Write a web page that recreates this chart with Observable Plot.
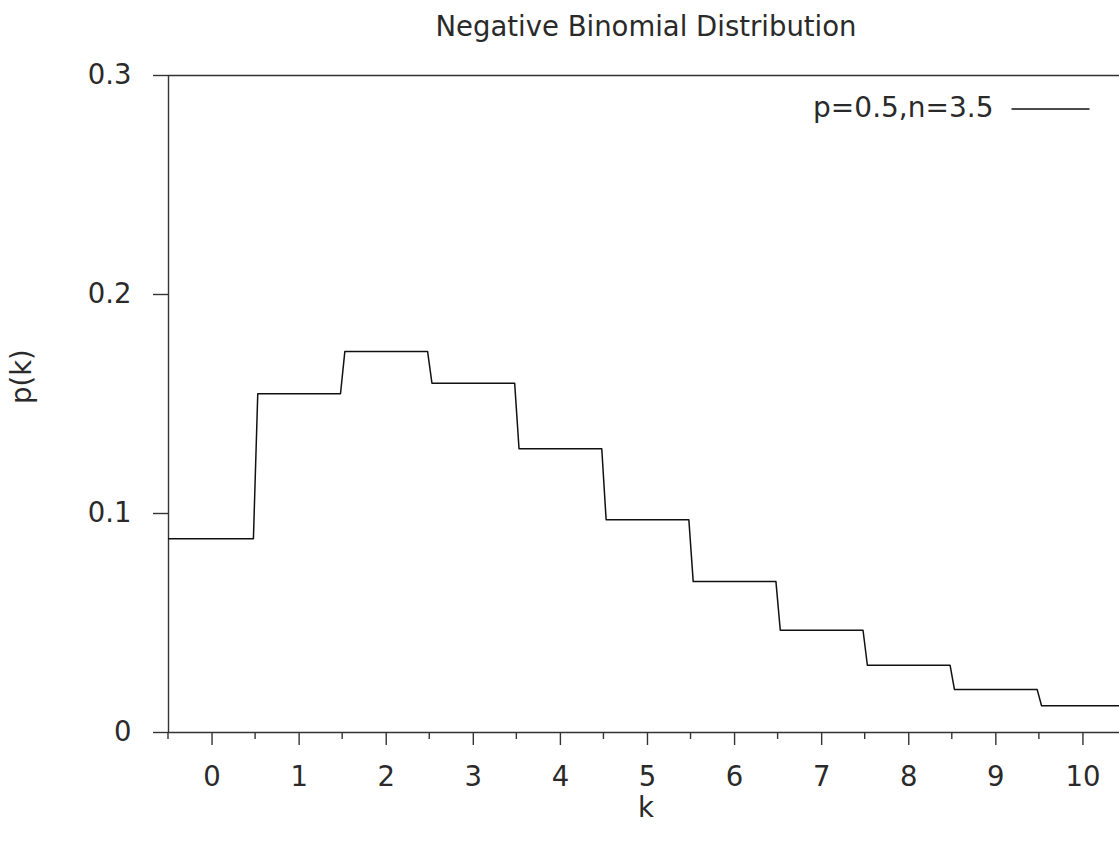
<!DOCTYPE html>
<html>
<head>
<meta charset="utf-8">
<script src="https://cdn.jsdelivr.net/npm/d3@7"></script>
<script src="https://cdn.jsdelivr.net/npm/@observablehq/plot@0.6"></script>
<style>
  html, body { margin: 0; padding: 0; background: #fff; overflow: hidden; }
  #chart { width: 1119px; height: 845px; overflow: hidden; }
  svg { overflow: hidden; }
</style>
</head>
<body>
<div id="chart"></div>
<script>
// ---- data ----
const titleText = "Negative Binomial Distribution";
const seriesName = "p=0.5,n=3.5";
const kValues = [0, 1, 2, 3, 4, 5, 6, 7, 8, 9, 10];
const pValues = [0.0885, 0.1547, 0.1740, 0.1595, 0.1296, 0.0972, 0.0689, 0.0467, 0.0307, 0.0196, 0.0122];
const xTicks = [0, 1, 2, 3, 4, 5, 6, 7, 8, 9, 10];
const xMinorTicks = [-0.5, 0.5, 1.5, 2.5, 3.5, 4.5, 5.5, 6.5, 7.5, 8.5, 9.5];
const yTicks = [0, 0.1, 0.2, 0.3];
const xLabel = "k";
const yLabel = "p(k)";

// step outline: each bar's top drawn slightly inside its bin (histeps-like)
const half = 0.475;
const steps = [];
kValues.forEach((k, i) => {
  const left = i === 0 ? k - 0.5 : k - half;
  const right = i === kValues.length - 1 ? k + 0.5 : k + half;
  steps.push({x: left, y: pValues[i]});
  steps.push({x: right, y: pValues[i]});
});

const font = "DejaVu Sans, sans-serif";
const ink = "#333";
const textInk = "#2a2a2a";
const fs = 27.5;

const chart = Plot.plot({
  width: 1119,
  height: 845,
  marginLeft: 168,
  marginRight: 0,
  marginTop: 75,
  marginBottom: 113,
  style: {fontFamily: font, background: "#fff", color: textInk},
  x: {domain: [-0.5, 10.42]},
  y: {domain: [0, 0.3]},
  marks: [
    // borders
    Plot.ruleY([0.3], {stroke: ink, strokeWidth: 1.4}),
    Plot.ruleX([-0.5], {stroke: ink, strokeWidth: 1.4}),
    Plot.ruleY([0], {stroke: ink, strokeWidth: 1.4}),
    // axes
    Plot.axisX({ticks: xTicks, tickSize: 13, tickPadding: 21, fontSize: fs, label: null,
      tickFormat: d => String(d), stroke: ink, strokeWidth: 1.4, fill: textInk}),
    Plot.axisY({ticks: yTicks, tickSize: 15, tickPadding: 22, fontSize: fs, label: null,
      tickFormat: d => d === 0 ? "0" : d.toFixed(1), stroke: ink, strokeWidth: 1.4, fill: textInk}),
    // step line
    Plot.line(steps, {x: "x", y: "y", stroke: "#111", strokeWidth: 1.5, clip: true}),
    // title & axis labels
    Plot.text([titleText], {frameAnchor: "top", lineAnchor: "middle", dx: 2, dy: -48, fontSize: fs, fill: textInk}),
    Plot.text([xLabel], {frameAnchor: "bottom", lineAnchor: "middle", dx: 2, dy: 76, fontSize: fs, fill: textInk}),
    Plot.text([yLabel], {frameAnchor: "left", dx: -146, rotate: -90, fontSize: fs, fill: textInk}),
    // legend
    Plot.text([seriesName], {frameAnchor: "top-right", textAnchor: "end", lineAnchor: "middle", dx: -126, dy: 33, fontSize: 28, fill: textInk})
  ]
});
document.getElementById("chart").appendChild(chart);

// minor ticks: short tick marks below the axis at the half-integers, via the x scale
const xs = chart.scale("x");
const ys = chart.scale("y");
const svg = d3.select(chart);
const y0 = ys.apply(0);
svg.append("g").attr("stroke", ink).attr("stroke-width", 1.4)
  .selectAll("line").data(xMinorTicks).join("line")
  .attr("x1", d => xs.apply(d)).attr("x2", d => xs.apply(d))
  .attr("y1", y0).attr("y2", y0 + 7);

// legend swatch after the legend text
const legendText = svg.selectAll("text").filter(function() { return this.textContent === seriesName; }).node();
if (legendText) {
  const bb = legendText.getBBox();
  const ctm = legendText.getCTM();
  const right = bb.x + bb.width + (ctm ? ctm.e : 0);
  const midY = bb.y + bb.height / 2 + (ctm ? ctm.f : 0) + 1;
  svg.append("line").attr("x1", right + 18).attr("x2", right + 96)
    .attr("y1", midY).attr("y2", midY).attr("stroke", "#111").attr("stroke-width", 1.5);
}
</script>
</body>
</html>
